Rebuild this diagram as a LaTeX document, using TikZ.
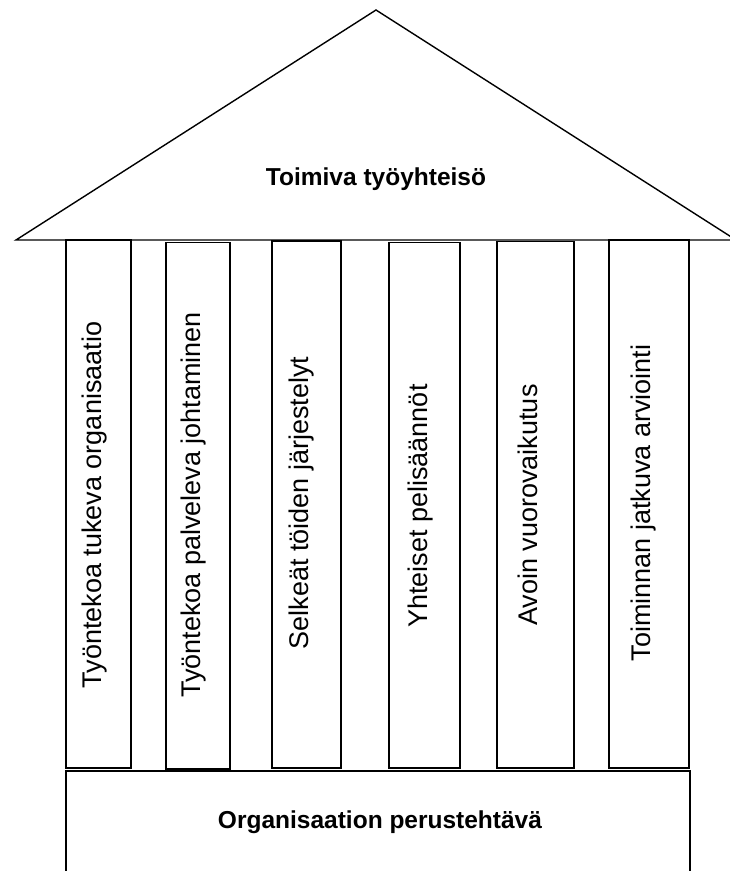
\documentclass[tikz,border=0pt]{standalone}
\usepackage{fontspec}
\setmainfont{Liberation Sans}
\begin{document}
\begin{tikzpicture}[x=1pt,y=-1pt,
  line/.style={draw=black,line width=1.4pt},
  pillarbox/.style={draw=black,line width=1.4pt,fill=white,inner sep=0pt,outer sep=0pt},
  ptext/.style={rotate=90,anchor=base,inner sep=0pt,font=\fontsize{27}{31}\selectfont},
  btext/.style={anchor=base,inner sep=0pt,font=\fontsize{24.5}{29}\selectfont\bfseries}]
\useasboundingbox (0,0) rectangle (729,871);
% roof
\coordinate (rl) at (16,240);
\coordinate (ra) at (376,10);
\coordinate (rr) at (736,240);
\draw[line,line join=miter] (rl) -- (ra) -- (rr) -- cycle;
\node[btext] (title) at (376,185) {Toimiva työyhteisö};
% pillars
\foreach \n/\l/\r/\t/\b in {p1/66/131/240/768, p2/166/230/242.5/769, p3/272/341/241/768,
                             p4/389/460/242.5/768, p5/497/574/241.5/768, p6/609/689/240/768}{
  \draw[pillarbox] (\l,\t) rectangle (\r,\b);
  \coordinate (\n) at ({(\l+\r)/2},505);
}
\node[ptext] (t1) at (101,505) {Työntekoa tukeva organisaatio};
\node[ptext] (t2) at (200,505) {Työntekoa palveleva johtaminen};
\node[ptext] (t3) at (308,503) {Selkeät töiden järjestelyt};
\node[ptext] (t4) at (427,506) {Yhteiset pelisäännöt};
\node[ptext] (t5) at (537,505) {Avoin vuorovaikutus};
\node[ptext] (t6) at (650,503) {Toiminnan jatkuva arviointi};
% base
\coordinate (bl) at (66,871);
\coordinate (br) at (690,871);
\draw[line,line join=miter] (bl) -- (66,771) -- (690,771) -- (br);
\node[btext] (base) at (380,828) {Organisaation perustehtävä};
\end{tikzpicture}
\end{document}
